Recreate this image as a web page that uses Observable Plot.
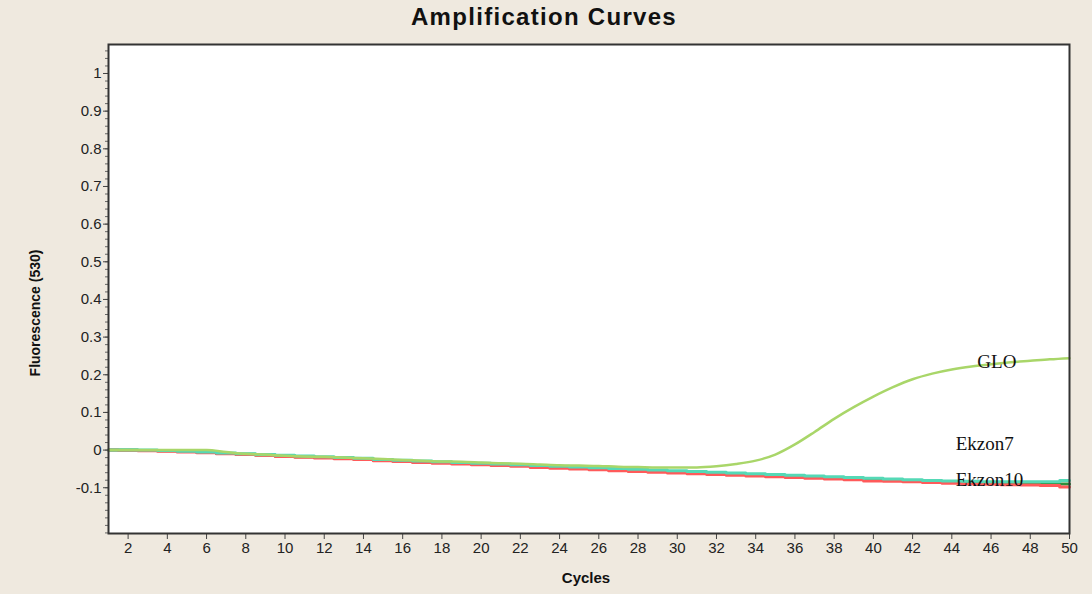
<!DOCTYPE html>
<html>
<head>
<meta charset="utf-8">
<script src="https://cdn.jsdelivr.net/npm/d3@7"></script>
<script src="https://cdn.jsdelivr.net/npm/@observablehq/plot@0.6"></script>
<style>
  html, body { margin: 0; padding: 0; background: #efe9df; }
  #chart svg { display: block; }
</style>
</head>
<body>
<div id="chart"></div>
<script>
const cycles = d3.range(1, 51);

const glo = [0, 0, 0, 0, 0, 0, -0.005, -0.01, -0.012, -0.015,
  -0.017, -0.018, -0.02, -0.022, -0.024, -0.026, -0.028, -0.03, -0.031, -0.033,
  -0.035, -0.036, -0.038, -0.04, -0.041, -0.042, -0.044, -0.045, -0.046, -0.046,
  -0.046, -0.043, -0.037, -0.028, -0.012, 0.015, 0.048, 0.083, 0.114, 0.142,
  0.167, 0.188, 0.203, 0.214, 0.222, 0.228, 0.233, 0.237, 0.241, 0.244];

const ekzon7 = [0, 0, 0, -0.001, -0.003, -0.005, -0.008, -0.01, -0.012, -0.014,
  -0.016, -0.018, -0.02, -0.022, -0.025, -0.027, -0.029, -0.031, -0.033, -0.035,
  -0.037, -0.039, -0.041, -0.043, -0.045, -0.047, -0.049, -0.051, -0.053, -0.055,
  -0.057, -0.059, -0.061, -0.063, -0.065, -0.067, -0.069, -0.071, -0.073, -0.075,
  -0.077, -0.079, -0.081, -0.082, -0.083, -0.084, -0.084, -0.084, -0.084, -0.081];

const ekzon10 = [0, -0.001, -0.002, -0.003, -0.005, -0.007, -0.01, -0.012, -0.014, -0.017,
  -0.019, -0.021, -0.023, -0.025, -0.028, -0.03, -0.033, -0.035, -0.037, -0.039,
  -0.041, -0.043, -0.046, -0.048, -0.05, -0.052, -0.055, -0.057, -0.059, -0.061,
  -0.063, -0.065, -0.067, -0.069, -0.071, -0.073, -0.075, -0.077, -0.079, -0.082,
  -0.083, -0.084, -0.086, -0.088, -0.09, -0.091, -0.092, -0.093, -0.094, -0.098];

const control = [0, 0, -0.001, -0.002, -0.004, -0.006, -0.009, -0.011, -0.013, -0.016,
  -0.018, -0.02, -0.022, -0.024, -0.026, -0.029, -0.031, -0.033, -0.035, -0.037,
  -0.039, -0.041, -0.043, -0.045, -0.047, -0.049, -0.052, -0.054, -0.056, -0.058,
  -0.06, -0.062, -0.064, -0.066, -0.068, -0.07, -0.072, -0.074, -0.076, -0.078,
  -0.08, -0.081, -0.083, -0.085, -0.086, -0.087, -0.088, -0.089, -0.09, -0.09];

const xTicks = d3.range(2, 51, 2);
const yTicks = [-0.1, 0, 0.1, 0.2, 0.3, 0.4, 0.5, 0.6, 0.7, 0.8, 0.9, 1];
const yMinorTicks = d3.range(-22, 108, 2).map(d => d / 100);

const baseNames = ["Control", "Ekzon10", "Ekzon7"];
const baseValues = [control, ekzon10, ekzon7];
const seriesNames = ["Control", "Ekzon10", "Ekzon7", "GLO"];
const seriesColors = ["#2f8f3c", "#ff5a5a", "#55d9b6", "#a9d669"];

const labelNames = ["GLO", "Ekzon7", "Ekzon10"];
const labelCycles = [45.3, 44.2, 44.2];
const labelSeries = [glo, ekzon7, ekzon10];
const labelDy = [-5, -37, -3];

const baseRows = [];
baseNames.forEach((name, i) => {
  cycles.forEach((c, j) => baseRows.push({series: name, cycle: c, value: baseValues[i][j]}));
});
const gloRows = cycles.map((c, j) => ({series: "GLO", cycle: c, value: glo[j]}));
const labels = labelNames.map((name, i) => {
  const j = Math.round(labelCycles[i]) - 1;
  return {name, cycle: labelCycles[i], value: labelSeries[i][j]};
});

const yDomain = [-0.2215, 1.077];
const serif = "Liberation Serif, Times New Roman, serif";

const plot = Plot.plot({
  width: 1092,
  height: 594,
  marginLeft: 108,
  marginRight: 23,
  marginTop: 44,
  marginBottom: 61,
  style: {background: "#efe9df", fontFamily: "Liberation Sans, Arial, sans-serif", fontSize: "15px", color: "#222"},
  x: {domain: [1, 50], label: null},
  y: {domain: yDomain, label: null},
  color: {domain: seriesNames, range: seriesColors},
  marks: [
    Plot.frame({fill: "white"}),
    Plot.line(baseRows, {x: "cycle", y: "value", z: "series", stroke: "series", strokeWidth: 3, curve: "step"}),
    Plot.line(gloRows, {x: "cycle", y: "value", stroke: "series", strokeWidth: 2.5, curve: "monotone-x"}),
    Plot.axisY(yMinorTicks, {tickSize: 3, text: null, stroke: "#666", label: null}),
    Plot.axisY(yTicks, {tickSize: 5, tickPadding: 2, stroke: "#444", fill: "#222", fontSize: 15, tickFormat: d => String(d), label: null}),
    Plot.axisX(xTicks, {tickSize: 6, tickPadding: 3, stroke: "#444", fill: "#222", fontSize: 15, label: null}),
    ...labels.map((d, i) => Plot.text([d], {x: "cycle", y: "value", text: "name", dy: labelDy[i], textAnchor: "start",
      fontFamily: serif, fontSize: 19, fill: "#111"})),
    Plot.frame({stroke: "#333", strokeWidth: 2}),
  ]
});

document.getElementById("chart").appendChild(plot);

const svg = d3.select(plot);
svg.append("text")
  .attr("x", 544).attr("y", 25)
  .attr("text-anchor", "middle")
  .style("font-family", "Liberation Sans, Arial, sans-serif")
  .style("font-weight", "900")
  .style("font-size", "24px")
  .style("letter-spacing", "1.3px")
  .style("fill", "#111")
  .text("Amplification Curves");
svg.append("text")
  .attr("transform", "translate(40,313) rotate(-90)")
  .attr("text-anchor", "middle")
  .style("font-family", "Liberation Sans, Arial, sans-serif")
  .style("font-weight", "bold")
  .style("font-size", "14px")
  .style("fill", "#111")
  .text("Fluorescence (530)");
svg.append("text")
  .attr("x", 586).attr("y", 583)
  .attr("text-anchor", "middle")
  .style("font-family", "Liberation Sans, Arial, sans-serif")
  .style("font-weight", "bold")
  .style("font-size", "15px")
  .style("fill", "#111")
  .text("Cycles");
</script>
</body>
</html>
